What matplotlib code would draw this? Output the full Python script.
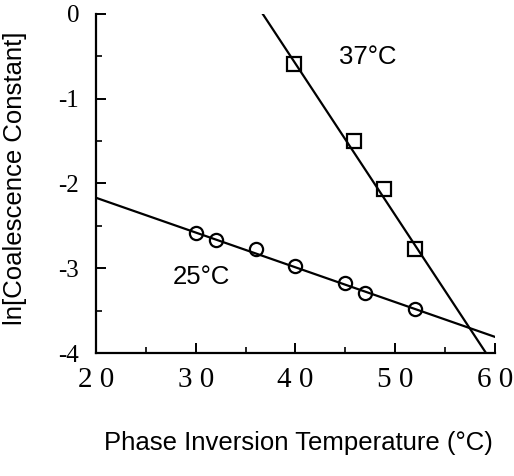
import matplotlib
matplotlib.use("Agg")
import matplotlib.pyplot as plt
from matplotlib.ticker import MultipleLocator

# 25 C series (circles)
x25 = [30, 32, 36, 40, 45, 47, 52]
y25 = [-2.58, -2.67, -2.77, -2.97, -3.18, -3.29, -3.48]
# 37 C series (squares)
x37 = [39.8, 45.9, 48.9, 52.0]
y37 = [-0.59, -1.50, -2.07, -2.77]

# fitted lines (end points as drawn)
fit25_x = [20, 60]
fit25_y = [-2.17, -3.81]
fit37_x = [36.7, 59.1]
fit37_y = [0.0, -4.0]

xticks = [20, 30, 40, 50, 60]
xtick_labels = ["2 0", "3 0", "4 0", "5 0", "6 0"]
yticks = [0, -1, -2, -3, -4]
ytick_labels = ["0", "-1", "-2", "-3", "-4"]

fig = plt.figure(figsize=(5.14, 4.76), dpi=100)
ax = fig.add_axes([0.1868, 0.2584, 0.7762, 0.7128])

ax.plot(fit25_x, fit25_y, color="black", lw=1.6, zorder=2)
ax.plot(fit37_x, fit37_y, color="black", lw=1.6, zorder=2)
ax.plot(x25, y25, "o", ms=9.5, mfc="none", mec="black", mew=1.6, zorder=3)
ax.plot(x37, y37, "s", ms=9.5, mfc="none", mec="black", mew=1.6, zorder=3)

ax.text(47.2, -0.51, "37°C", fontsize=18.5, family="Liberation Sans",
        ha="center", va="center")
ax.text(30.6, -3.10, "25°C", fontsize=18.5, family="Liberation Sans",
        ha="center", va="center")

ax.set_xlim(20, 60)
ax.set_ylim(-4, 0)
ax.spines["top"].set_visible(False)
ax.spines["right"].set_visible(False)
ax.spines["left"].set_linewidth(1.6)
ax.spines["bottom"].set_linewidth(1.6)

ax.set_xticks(xticks)
ax.set_xticklabels(xtick_labels, family="Liberation Serif", fontsize=21)
ax.set_yticks(yticks)
ax.set_yticklabels(ytick_labels, family="Liberation Serif", fontsize=18)
ax.xaxis.set_minor_locator(MultipleLocator(5))
ax.yaxis.set_minor_locator(MultipleLocator(0.5))
ax.tick_params(which="major", direction="in", length=7, width=1.4)
ax.tick_params(which="minor", direction="in", length=4, width=1.2)
ax.tick_params(axis="x", pad=10)
ax.tick_params(axis="y", pad=12)

fig.text(15 / 514, 1 - 178 / 476, "ln[Coalescence Constant]", rotation=90,
         fontsize=18.5, family="Liberation Sans", ha="center", va="center")
fig.text(298 / 514, 1 - 443 / 476, "Phase Inversion Temperature (°C)",
         fontsize=18.5, family="Liberation Sans", ha="center", va="center")

fig.savefig("out.png", dpi=100)
